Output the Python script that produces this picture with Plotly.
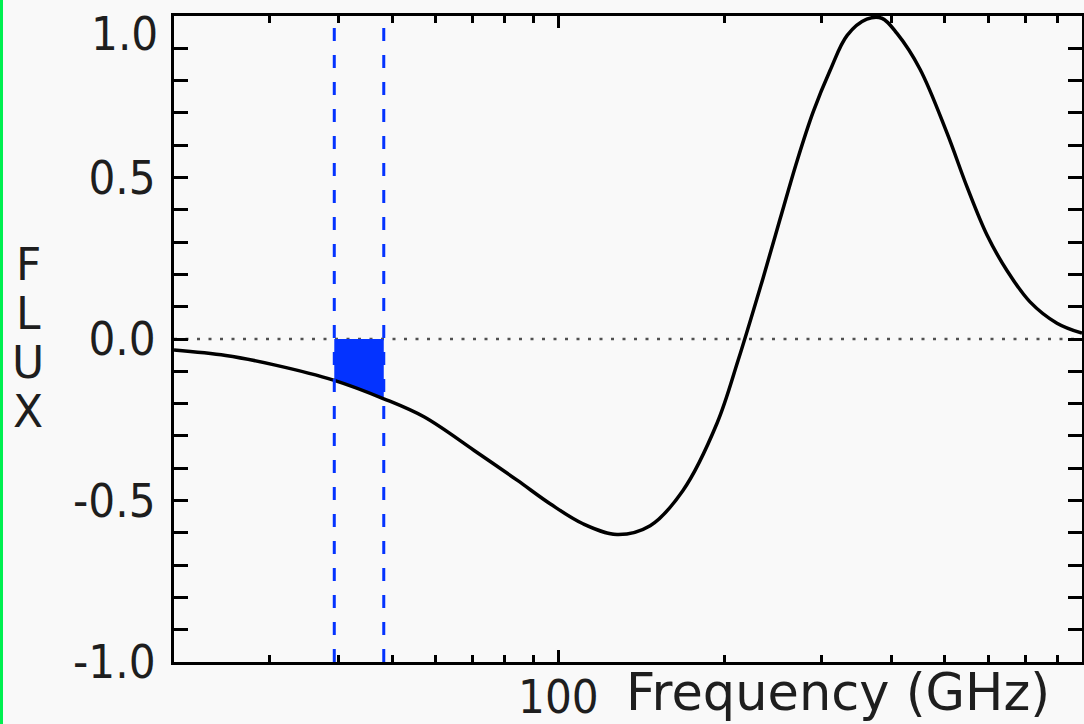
import math
import plotly.graph_objects as go

# Spectral shape of the flux versus frequency
freq_ghz = [20.15, 25.0, 30.6, 39.3, 48.3, 57.1, 70.4, 84.2, 96.6, 110.8,
            127.7, 146.6, 168.2, 193.8, 211.6, 234.8, 252.0, 270.5, 289.2,
            310.4, 333.2, 361.6, 385.0, 410.1, 451.2, 505.1, 549.1, 596.8,
            648.5, 713.9, 798.8, 886.7]
flux = [-0.034, -0.051, -0.080, -0.128, -0.185, -0.241, -0.345, -0.437,
        -0.510, -0.572, -0.605, -0.578, -0.468, -0.260, -0.065, 0.190,
        0.372, 0.552, 0.703, 0.832, 0.940, 0.990, 0.993, 0.946, 0.836,
        0.638, 0.471, 0.322, 0.212, 0.115, 0.049, 0.018]

# Frequency band (edges) and the curve inside it
band_edges = [39.3, 48.3]
band_freq = [39.3, 43.6, 48.3]
band_flux = [-0.128, -0.156, -0.185]

x_major = [100]
x_minor = [30, 40, 50, 60, 70, 80, 90, 200, 300, 400, 500, 600, 700, 800]
y_major = [-1.0, -0.5, 0.0, 0.5, 1.0]
y_labels = ["-1.0", "-0.5", "0.0", "0.5", ""]

FONT = "DejaVu Sans Condensed, DejaVu Sans"
TITLE_FONT = "DejaVu Sans"
INK = "#1e1e1e"
BG = "#f9f9f9"
BLUE = "#0433ff"
W, H = 1084, 724
L, R, T, B = 174, 2, 16, 62
PW, PH = W - L - R, H - T - B
X_RANGE = [math.log10(20.15), math.log10(886.7)]


def px_x(p):
    return (p - L) / PW


def px_y(p):
    return (H - B - p) / PH


fig = go.Figure()

# shaded band between zero and the curve
fig.add_trace(go.Scatter(
    x=band_freq, y=band_flux, mode="lines", fill="tozeroy",
    fillcolor=BLUE, line=dict(color=BLUE, width=1), hoverinfo="skip",
    showlegend=False))

# main curve
fig.add_trace(go.Scatter(
    x=freq_ghz, y=flux, mode="lines",
    line=dict(color="black", width=3.5, shape="spline", smoothing=1.0),
    showlegend=False))

# carrier for the long-tick axis
fig.add_trace(go.Scatter(x=[100], y=[0], xaxis="x2", yaxis="y",
                         mode="markers", marker=dict(opacity=0),
                         hoverinfo="skip", showlegend=False))

# zero reference line
fig.add_shape(type="line", xref="paper", yref="y", x0=0, x1=1, y0=0, y1=0,
              line=dict(color="#505050", width=2.5, dash="3px,8.5px"),
              layer="below")

# band edges
for f in band_edges:
    fig.add_shape(type="line", xref="x", yref="paper", x0=f, x1=f, y0=0, y1=1,
                  line=dict(color=BLUE, width=3, dash="13px,14px"))

# vertical rule on the far left
fig.add_shape(type="rect", xref="paper", yref="paper",
              x0=px_x(0), x1=px_x(3), y0=px_y(H), y1=px_y(0),
              fillcolor="#00f050", line=dict(width=0))

# y-axis title, one letter per line
for ch, py in zip("FLUX", [264.5, 313.5, 362.5, 411.5]):
    fig.add_annotation(text=ch, xref="paper", yref="paper",
                       x=px_x(28), y=px_y(py), showarrow=False,
                       xanchor="center", yanchor="middle", borderpad=0,
                       font=dict(family=TITLE_FONT, size=44, color=INK))

# top y label sits below its tick
fig.add_annotation(text="1.0", xref="paper", yref="y", x=px_x(160), y=1.0,
                   yshift=-17, showarrow=False, xanchor="right",
                   yanchor="middle",
                   font=dict(family=FONT, size=47, color=INK))

# x-axis title to the right of the tick label
fig.add_annotation(text="Frequency (GHz)", xref="paper", yref="paper",
                   x=px_x(625), y=px_y(723), showarrow=False,
                   xanchor="left", yanchor="bottom", borderpad=0,
                   font=dict(family=TITLE_FONT, size=51, color=INK))

axis_common = dict(showline=True, linecolor="black", linewidth=3,
                   mirror="allticks", ticks="inside", tickcolor="black",
                   tickwidth=2.5, showgrid=False, zeroline=False,
                   automargin=False)

fig.update_layout(
    xaxis=dict(type="log", range=X_RANGE, tickmode="array",
               tickvals=x_minor + x_major,
               ticktext=[""] * len(x_minor) + ["100"], ticklen=7,
               tickfont=dict(family=FONT, size=47, color=INK),
               ticklabelstandoff=-8, **axis_common),
    xaxis2=dict(type="log", range=X_RANGE, overlaying="x", anchor="y",
                side="bottom", tickmode="array", tickvals=x_major,
                ticks="inside", ticklen=12, tickwidth=2.5, tickcolor="black",
                mirror="allticks", showline=False, showgrid=False,
                zeroline=False, showticklabels=False, automargin=False),
    yaxis=dict(range=[-1.0, 1.0], tickmode="array", tickvals=y_major,
               ticktext=y_labels, ticklen=14,
               minor=dict(dtick=0.1, ticks="inside", ticklen=8,
                          tickwidth=2.5, tickcolor="black", showgrid=False),
               tickfont=dict(family=FONT, size=47, color=INK),
               ticklabelstandoff=6, **axis_common),
    width=W, height=H, margin=dict(l=L, r=R, t=T, b=B, pad=0,
                                   autoexpand=False),
    paper_bgcolor=BG, plot_bgcolor=BG, showlegend=False,
    font=dict(family=FONT))

fig.write_html("out.html")
